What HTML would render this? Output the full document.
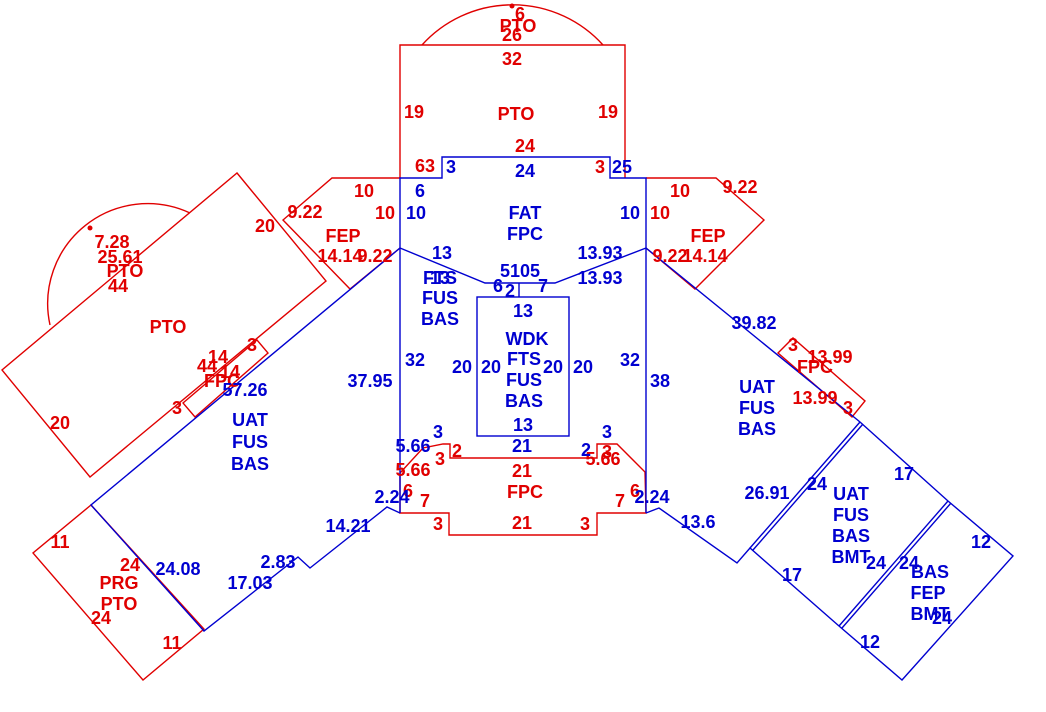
<!DOCTYPE html>
<html><head><meta charset="utf-8"><style>
html,body{margin:0;padding:0;background:#fff;}
svg{display:block;}
text{font-family:"Liberation Sans",Arial,sans-serif;font-size:18px;font-weight:bold;text-anchor:middle;dominant-baseline:central;}
.r{fill:#e00000;} .b{fill:#0000d0;}
</style></head><body>
<svg width="1046" height="712" viewBox="0 0 1046 712" xmlns="http://www.w3.org/2000/svg">
<g fill="none" stroke="#e00000" stroke-width="1.4">
<polyline points="400,178 400,45 625,45 625,178"/>
<path d="M422,45 A122,122 0 0 1 603,45"/>
<polyline points="400,178 332,178 283,220 350,289 400,248"/>
<polygon points="237,173 326,281 90,477 2,370"/>
<path d="M50,325 A100,100 0 0 1 190,213"/>
<polygon points="183,403 257,340 268,353 195,417"/>
<polygon points="91,505 33,553 143,680 204,629"/>
<polyline points="646,178 716,178 764,220 695,289 646,248"/>
<polygon points="778,353 793,338 865,401 852,417"/>
<polyline points="400,473 423,448 443,444 450,444 450,458 597,458 597,444 617,444 645,472 646,513 597,513 597,535 449,535 449,513 400,513 400,473"/>
</g>
<g fill="#e00000"><circle cx="512" cy="6" r="2.5"/><circle cx="90" cy="228" r="2.5"/></g>
<g fill="none" stroke="#0000d0" stroke-width="1.4">
<polyline points="400,513 400,178 442,178 442,157 610,157 610,178 625,178 646,178 646,513"/>
<polyline points="400,248 485,283 555,283 646,248"/>
<line x1="519" y1="283" x2="519" y2="297"/>
<rect x="477" y="297" width="92" height="139"/>
<polyline points="400,248 91,505 204,631 298,557 310,568 387,507 400,513"/>
<polyline points="646,248 860,422 948,501 1013,556 902,680 839,626 750,548 737,563 659,508 646,513"/>
<line x1="750" y1="548" x2="860" y2="422"/>
<line x1="753" y1="550" x2="863" y2="424"/>
<line x1="839" y1="626" x2="948" y2="501"/>
<line x1="842" y1="628" x2="951" y2="503"/>
</g>
<g class="r">
<text x="520" y="14">6</text><text x="518" y="26">PTO</text><text x="512" y="35">26</text><text x="512" y="59">32</text>
<text x="414" y="112">19</text><text x="516" y="114">PTO</text><text x="608" y="112">19</text><text x="525" y="146">24</text>
<text x="425" y="166">63</text><text x="600" y="167">3</text>
<text x="364" y="191">10</text><text x="305" y="212">9.22</text><text x="385" y="213">10</text><text x="265" y="226">20</text>
<text x="343" y="236">FEP</text><text x="340" y="256">14.14</text><text x="375" y="256">9.22</text>
<text x="112" y="242">7.28</text><text x="120" y="257">25.61</text><text x="125" y="271">PTO</text><text x="118" y="286">44</text>
<text x="168" y="327">PTO</text><text x="218" y="357">14</text><text x="207" y="366">44</text><text x="230" y="372">14</text>
<text x="252" y="345">3</text><text x="222" y="381">FPC</text><text x="177" y="408">3</text><text x="60" y="423">20</text>
<text x="680" y="191">10</text><text x="740" y="187">9.22</text><text x="660" y="213">10</text><text x="708" y="236">FEP</text>
<text x="670" y="256">9.22</text><text x="705" y="256">14.14</text>
<text x="793" y="345">3</text><text x="830" y="357">13.99</text><text x="815" y="367">FPC</text><text x="815" y="398">13.99</text><text x="848" y="408">3</text>
<text x="440" y="459">3</text><text x="457" y="451">2</text><text x="413" y="470">5.66</text><text x="522" y="471">21</text>
<text x="603" y="459">5.66</text><text x="607" y="452">3</text><text x="525" y="492">FPC</text>
<text x="408" y="491">6</text><text x="425" y="501">7</text><text x="635" y="491">6</text><text x="620" y="501">7</text>
<text x="438" y="524">3</text><text x="522" y="523">21</text><text x="585" y="524">3</text>
<text x="60" y="542">11</text><text x="130" y="565">24</text><text x="119" y="583">PRG</text><text x="119" y="604">PTO</text><text x="101" y="618">24</text><text x="172" y="643">11</text>
</g>
<g class="b">
<text x="451" y="167">3</text><text x="525" y="171">24</text><text x="622" y="167">25</text><text x="420" y="191">6</text>
<text x="416" y="213">10</text><text x="525" y="213">FAT</text><text x="525" y="234">FPC</text><text x="630" y="213">10</text>
<text x="442" y="253">13</text><text x="600" y="253">13.93</text><text x="440" y="278">FTS</text><text x="440" y="278">13</text>
<text x="520" y="271">5105</text><text x="600" y="278">13.93</text><text x="498" y="286">6</text><text x="510" y="291">2</text><text x="543" y="286">7</text>
<text x="440" y="298">FUS</text><text x="440" y="319">BAS</text><text x="523" y="311">13</text>
<text x="527" y="339">WDK</text><text x="524" y="359">FTS</text><text x="524" y="380">FUS</text><text x="524" y="401">BAS</text>
<text x="415" y="360">32</text><text x="462" y="367">20</text><text x="491" y="367">20</text><text x="553" y="367">20</text><text x="583" y="367">20</text><text x="630" y="360">32</text>
<text x="370" y="381">37.95</text><text x="245" y="390">57.26</text><text x="660" y="381">38</text>
<text x="757" y="387">UAT</text><text x="757" y="408">FUS</text><text x="757" y="429">BAS</text>
<text x="250" y="420">UAT</text><text x="250" y="442">FUS</text><text x="250" y="464">BAS</text>
<text x="754" y="323">39.82</text><text x="523" y="425">13</text><text x="438" y="432">3</text><text x="607" y="432">3</text>
<text x="522" y="446">21</text><text x="413" y="446">5.66</text><text x="586" y="450">2</text>
<text x="392" y="497">2.24</text><text x="652" y="497">2.24</text><text x="348" y="526">14.21</text><text x="698" y="522">13.6</text>
<text x="767" y="493">26.91</text><text x="817" y="484">24</text><text x="851" y="494">UAT</text><text x="851" y="515">FUS</text><text x="851" y="536">BAS</text><text x="851" y="557">BMT</text>
<text x="876" y="563">24</text><text x="909" y="563">24</text><text x="904" y="474">17</text>
<text x="930" y="572">BAS</text><text x="928" y="593">FEP</text><text x="930" y="614">BMT</text><text x="942" y="618">24</text>
<text x="981" y="542">12</text><text x="792" y="575">17</text><text x="870" y="642">12</text>
<text x="178" y="569">24.08</text><text x="278" y="562">2.83</text><text x="250" y="583">17.03</text>
</g>
</svg>
</body></html>
